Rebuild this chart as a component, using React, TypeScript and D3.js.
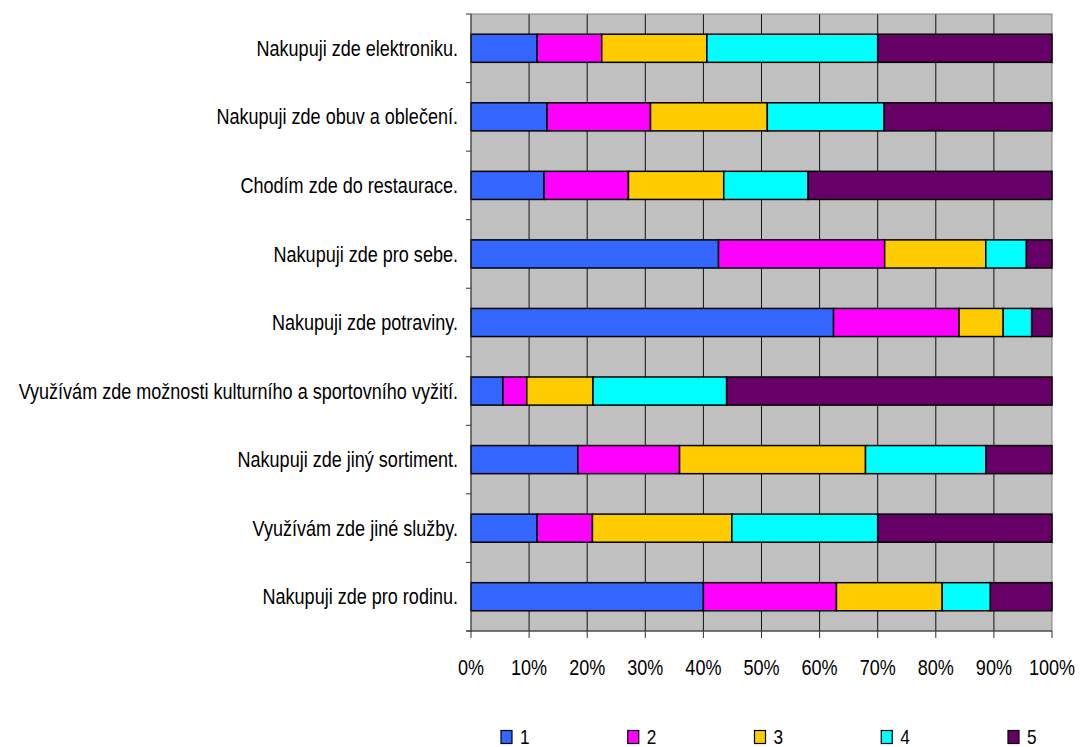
import React from "react";
import * as d3 from "d3";

const categories = [
  "Nakupuji zde elektroniku.",
  "Nakupuji zde obuv a oblečení.",
  "Chodím zde do restaurace.",
  "Nakupuji zde pro sebe.",
  "Nakupuji zde potraviny.",
  "Využívám zde možnosti kulturního a sportovního vyžití.",
  "Nakupuji zde jiný sortiment.",
  "Využívám zde jiné služby.",
  "Nakupuji zde pro rodinu.",
];

const series1 = [11.4, 13.1, 12.6, 42.6, 62.4, 5.5, 18.4, 11.4, 40.0];
const series2 = [11.1, 17.8, 14.5, 28.6, 21.6, 4.1, 17.5, 9.5, 22.9];
const series3 = [18.1, 20.1, 16.4, 17.4, 7.6, 11.4, 32.0, 24.0, 18.2];
const series4 = [29.4, 20.1, 14.5, 7.0, 4.9, 23.0, 20.7, 25.1, 8.3];
const series5 = [30.0, 28.9, 42.0, 4.4, 3.5, 56.0, 11.4, 30.0, 10.6];

const seriesNames = ["1", "2", "3", "4", "5"];
const seriesColors = ["#3366FF", "#FF00FF", "#FFCC00", "#00FFFF", "#660066"];
const xTicks = [0, 0.1, 0.2, 0.3, 0.4, 0.5, 0.6, 0.7, 0.8, 0.9, 1];

const W = 1082;
const H = 747;
const FONT = "'Liberation Sans', Arial, sans-serif";
const NARROW = 0.82;

function NarrowText(props: {
  x: number;
  y: number;
  anchor: "start" | "middle" | "end";
  size?: number;
  children: React.ReactNode;
}) {
  return (
    <text
      transform={`translate(${props.x},${props.y}) scale(${NARROW},1)`}
      textAnchor={props.anchor}
      dominantBaseline="central"
      fontSize={props.size ?? 22}
      fill="#000"
    >
      {props.children}
    </text>
  );
}

export default function App() {
  const left = 471;
  const right = 1052;
  const top = 14;
  const bottom = 631;

  const rows = categories.map((c, i) => {
    const vals = [series1[i], series2[i], series3[i], series4[i], series5[i]];
    const total = d3.sum(vals);
    return { c, shares: vals.map((v) => v / total) };
  });

  const x = d3.scaleLinear().domain([0, 1]).range([left, right]);
  const y = d3
    .scaleBand<string>()
    .domain(categories)
    .range([top, bottom])
    .paddingInner(0.59)
    .paddingOuter(0.295);
  const band = (bottom - top) / categories.length;

  const stacked = rows.map((r) => {
    let acc = 0;
    return r.shares.map((s, k) => {
      const x0 = acc;
      acc += s;
      return { x0, x1: acc, k };
    });
  });

  const legendX = d3.scalePoint<string>().domain(seriesNames).range([501, 1008]);

  return (
    <svg
      width={W}
      height={H}
      style={{ position: "absolute", left: 0, top: 0, background: "#fff" }}
      fontFamily={FONT}
    >
      <rect x={left} y={top} width={right - left} height={bottom - top} fill="#C0C0C0" />
      {xTicks.slice(1, -1).map((t) => (
        <line key={t} x1={x(t)} x2={x(t)} y1={top} y2={bottom} stroke="#111" strokeWidth={1} />
      ))}
      <rect
        x={left}
        y={top}
        width={right - left}
        height={bottom - top}
        fill="none"
        stroke="#808080"
        strokeWidth={1}
      />

      {rows.map((r, i) =>
        stacked[i].map((seg) => (
          <rect
            key={`${i}-${seg.k}`}
            x={x(seg.x0)}
            y={y(r.c)!}
            width={x(seg.x1) - x(seg.x0)}
            height={y.bandwidth()}
            fill={seriesColors[seg.k]}
            stroke="#000"
            strokeWidth={1.5}
          />
        ))
      )}

      {/* category axis */}
      <line x1={left} x2={left} y1={top} y2={bottom} stroke="#333" strokeWidth={1} />
      {d3.range(categories.length + 1).map((i) => (
        <line
          key={i}
          x1={left - 5}
          x2={left}
          y1={top + i * band}
          y2={top + i * band}
          stroke="#333"
        />
      ))}
      {categories.map((c) => (
        <NarrowText key={c} x={458} y={y(c)! + y.bandwidth() / 2} anchor="end">
          {c}
        </NarrowText>
      ))}

      {/* value axis */}
      <line x1={left - 5} x2={right} y1={bottom} y2={bottom} stroke="#333" />
      {xTicks.map((t) => (
        <g key={t}>
          <line x1={x(t)} x2={x(t)} y1={bottom} y2={bottom + 7} stroke="#333" />
          <NarrowText x={x(t)} y={667} anchor="middle">
            {d3.format(".0%")(t)}
          </NarrowText>
        </g>
      ))}

      {/* legend */}
      {seriesNames.map((n, k) => (
        <g key={n}>
          <rect
            x={legendX(n)!}
            y={730.5}
            width={11}
            height={13}
            fill={seriesColors[k]}
            stroke="#000"
            strokeWidth={1.2}
          />
          <NarrowText x={legendX(n)! + 19} y={736.5} anchor="start" size={21}>
            {n}
          </NarrowText>
        </g>
      ))}
    </svg>
  );
}
